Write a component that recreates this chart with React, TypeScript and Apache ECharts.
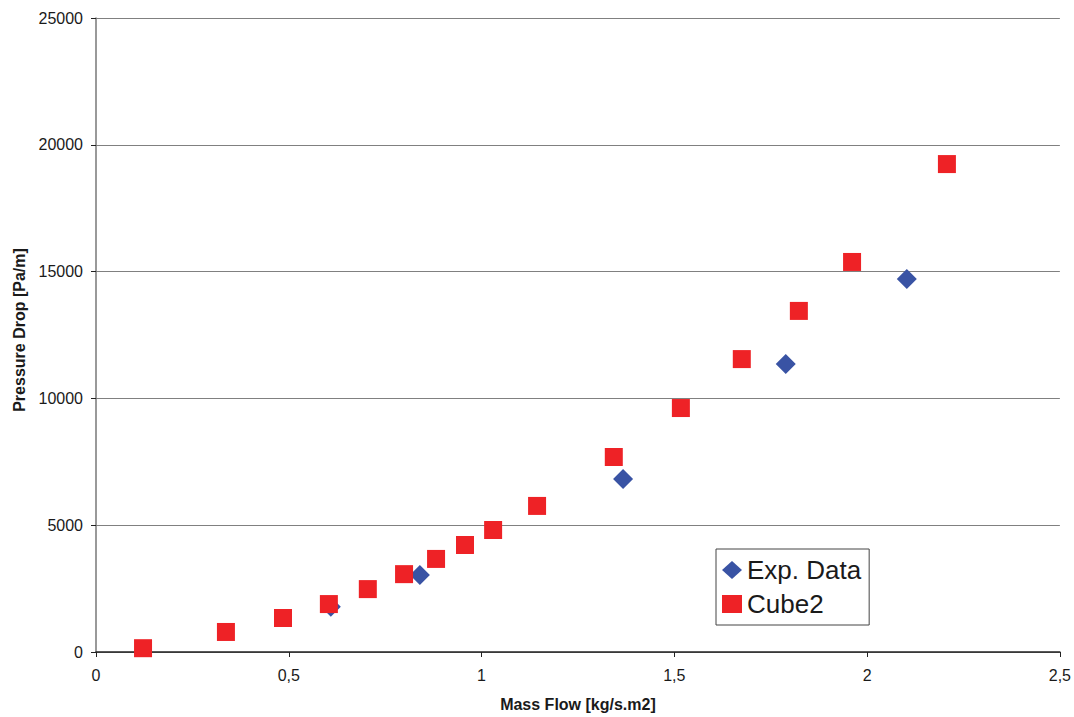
import React, { useEffect, useRef } from "react";
import * as echarts from "echarts";

// Cube2 simulation results: [mass flow, pressure drop]
const cube2Flow = [0.122, 0.337, 0.485, 0.604, 0.705, 0.799, 0.882, 0.957, 1.03, 1.144, 1.343, 1.517, 1.675, 1.823, 1.961, 2.207];
const cube2Drop = [150, 790, 1340, 1890, 2480, 3070, 3670, 4220, 4810, 5760, 7690, 9620, 11550, 13450, 15380, 19240];

// Experimental measurements
const expFlow = [0.609, 0.84, 1.367, 1.789, 2.103];
const expDrop = [1780, 3040, 6820, 11360, 14710];

const FONT = "'Liberation Sans', Arial, Helvetica, sans-serif";

export default function App() {
  const ref = useRef<HTMLDivElement>(null);

  useEffect(() => {
    if (!ref.current) return;
    const chart = echarts.init(ref.current, undefined, { renderer: "svg" });
    chart.setOption({
      animation: false,
      backgroundColor: "#ffffff",
      textStyle: { fontFamily: FONT },
      grid: { left: 96, right: 14, top: 18, bottom: 65 },
      legend: {
        left: 716,
        top: 549,
        orient: "vertical",
        borderColor: "#444",
        borderWidth: 1,
        padding: [7, 8, 7, 6],
        itemGap: 6,
        itemWidth: 20,
        itemHeight: 18,
        textStyle: { fontFamily: FONT, fontSize: 26, color: "#1a1a1a", lineHeight: 28 },
        data: [
          { name: "Exp. Data", icon: "diamond" },
          { name: "Cube2", icon: "rect" },
        ],
      },
      xAxis: {
        type: "value",
        min: 0,
        max: 2.5,
        interval: 0.5,
        name: "Mass Flow [kg/s.m2]",
        nameLocation: "middle",
        nameGap: 44,
        nameTextStyle: { fontFamily: FONT, fontSize: 16, fontWeight: "bold", color: "#1a1a1a" },
        axisLine: { show: true, lineStyle: { color: "#222", width: 1.5 } },
        axisTick: { show: true, inside: false, length: 5, lineStyle: { color: "#222" } },
        axisLabel: {
          fontFamily: FONT,
          fontSize: 16,
          color: "#1a1a1a",
          margin: 15,
          formatter: (v: number) => String(v).replace(".", ","),
        },
        splitLine: { show: false },
      },
      yAxis: {
        type: "value",
        min: 0,
        max: 25000,
        interval: 5000,
        name: "Pressure Drop [Pa/m]",
        nameLocation: "middle",
        nameGap: 68,
        nameTextStyle: {
          fontFamily: FONT,
          fontSize: 16,
          fontWeight: "bold",
          color: "#1a1a1a",
          padding: [0, 0, 0, 10],
        },
        axisLine: { show: true, lineStyle: { color: "#777", width: 1.5 } },
        axisTick: { show: true, inside: false, length: 5, lineStyle: { color: "#222" } },
        axisLabel: {
          fontFamily: FONT,
          fontSize: 16,
          color: "#1a1a1a",
          margin: 13,
          formatter: (v: number) => String(v),
        },
        splitLine: { show: true, lineStyle: { color: "#808080", width: 1 } },
      },
      series: [
        {
          name: "Exp. Data",
          type: "scatter",
          symbol: "diamond",
          symbolSize: [20, 20],
          itemStyle: { color: "#3953a4", opacity: 1 },
          data: expFlow.map((x, i) => [x, expDrop[i]]),
          z: 2,
        },
        {
          name: "Cube2",
          type: "scatter",
          symbol: "rect",
          symbolSize: 18,
          itemStyle: { color: "#ee2226", opacity: 1 },
          data: cube2Flow.map((x, i) => [x, cube2Drop[i]]),
          z: 3,
        },
      ],
    });
    return () => chart.dispose();
  }, []);

  return (
    <div
      ref={ref}
      style={{ position: "fixed", left: 0, top: 0, width: 1074, height: 717, background: "#fff" }}
    />
  );
}
